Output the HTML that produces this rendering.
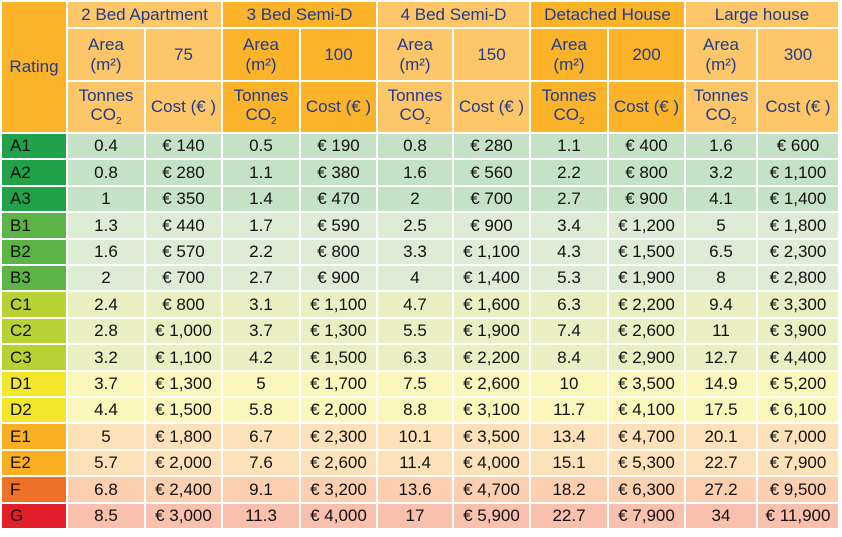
<!DOCTYPE html>
<html><head><meta charset="utf-8"><style>
body{margin:0;background:#fff;width:842px;height:537px;overflow:hidden;font-family:"Liberation Sans",sans-serif;}
#t{position:absolute;left:0;top:0;width:842px;height:537px;}
.c{position:absolute;box-sizing:border-box;display:flex;align-items:center;justify-content:center;text-align:center;font-size:17px;color:#111;line-height:1.12;}
.h{color:#1f3a8f;font-size:17px;}
.r{justify-content:flex-start;padding-left:8px;font-size:17px;}
</style></head><body>
<div id="t"></div>
<script>
const groups=["2 Bed Apartment","3 Bed Semi-D","4 Bed Semi-D","Detached House","Large house"];
const areas=["75","100","150","200","300"];
const ratings=["A1","A2","A3","B1","B2","B3","C1","C2","C3","D1","D2","E1","E2","F","G"];
const tonnes=[
["0.4","0.8","1","1.3","1.6","2","2.4","2.8","3.2","3.7","4.4","5","5.7","6.8","8.5"],
["0.5","1.1","1.4","1.7","2.2","2.7","3.1","3.7","4.2","5","5.8","6.7","7.6","9.1","11.3"],
["0.8","1.6","2","2.5","3.3","4","4.7","5.5","6.3","7.5","8.8","10.1","11.4","13.6","17"],
["1.1","2.2","2.7","3.4","4.3","5.3","6.3","7.4","8.4","10","11.7","13.4","15.1","18.2","22.7"],
["1.6","3.2","4.1","5","6.5","8","9.4","11","12.7","14.9","17.5","20.1","22.7","27.2","34"]];
const costs=[
["140","280","350","440","570","700","800","1,000","1,100","1,300","1,500","1,800","2,000","2,400","3,000"],
["190","380","470","590","800","900","1,100","1,300","1,500","1,700","2,000","2,300","2,600","3,200","4,000"],
["280","560","700","900","1,100","1,400","1,600","1,900","2,200","2,600","3,100","3,500","4,000","4,700","5,900"],
["400","800","900","1,200","1,500","1,900","2,200","2,600","2,900","3,500","4,100","4,700","5,300","6,300","7,900"],
["600","1,100","1,400","1,800","2,300","2,800","3,300","3,900","4,400","5,200","6,100","7,000","7,900","9,500","11,900"]];
const rc={A:["#22a14b","#c6e2c6"],B:["#5db446","#dcecd5"],C:["#b8d133","#e9efc2"],D:["#f3e72b","#fbf6bc"],E:["#fbb024","#fde2b9"],F:["#ee7027","#fccfb1"],G:["#e31f2b","#f9c0ae"]};
const X=[2,68,146,223,301,378,454,531,609,686,758,840];
const Y=[2,29,82,134];
const RH=26.4;
const t=document.getElementById('t');
function cell(x0,y0,x1,y1,bg,html,cls,name){
 const d=document.createElement('div');
 d.className='c '+(cls||'');
 d.style.left=(x0)+'px';d.style.top=y0+'px';d.style.width=(x1-x0-2)+'px';d.style.height=(y1-y0-2)+'px';
 d.style.background=bg;d.innerHTML='<div>'+html+'</div>';
 
 
 t.appendChild(d);
}
const light="#fdc769",dark="#fbb42a";
cell(X[0],Y[0],X[1],Y[3],dark,"Rating","h","rating-header");
const sub="<sub style='font-size:10px;vertical-align:-4px'>2</sub>";
groups.forEach((g,i)=>{
 const bg=i%2?dark:light;const a=X[1+2*i],b=X[2+2*i],c=X[3+2*i];
 cell(a,Y[0],c,Y[1],bg,g,"h","group-header");
 cell(a,Y[1],b,Y[2],bg,"Area<br>(m²)","h","area-label");
 cell(b,Y[1],c,Y[2],bg,areas[i],"h","area-value");
 cell(a,Y[2],b,Y[3],bg,"Tonnes<br>CO"+sub,"h","tonnes-header");
 cell(b,Y[2],c,Y[3],bg,"Cost (€ )","h","cost-header");
});
ratings.forEach((r,j)=>{
 const y0=Math.round(Y[3]+j*RH),y1=Math.round(Y[3]+(j+1)*RH);
 const col=rc[r[0]];
 cell(X[0],y0,X[1],y1,col[0],r,"r","rating-cell");
 groups.forEach((g,i)=>{
  cell(X[1+2*i],y0,X[2+2*i],y1,col[1],tonnes[i][j],"","tonnes-cell");
  cell(X[2+2*i],y0,X[3+2*i],y1,col[1],"€ "+costs[i][j],"","cost-cell");
 });
});
</script>
</body></html>
